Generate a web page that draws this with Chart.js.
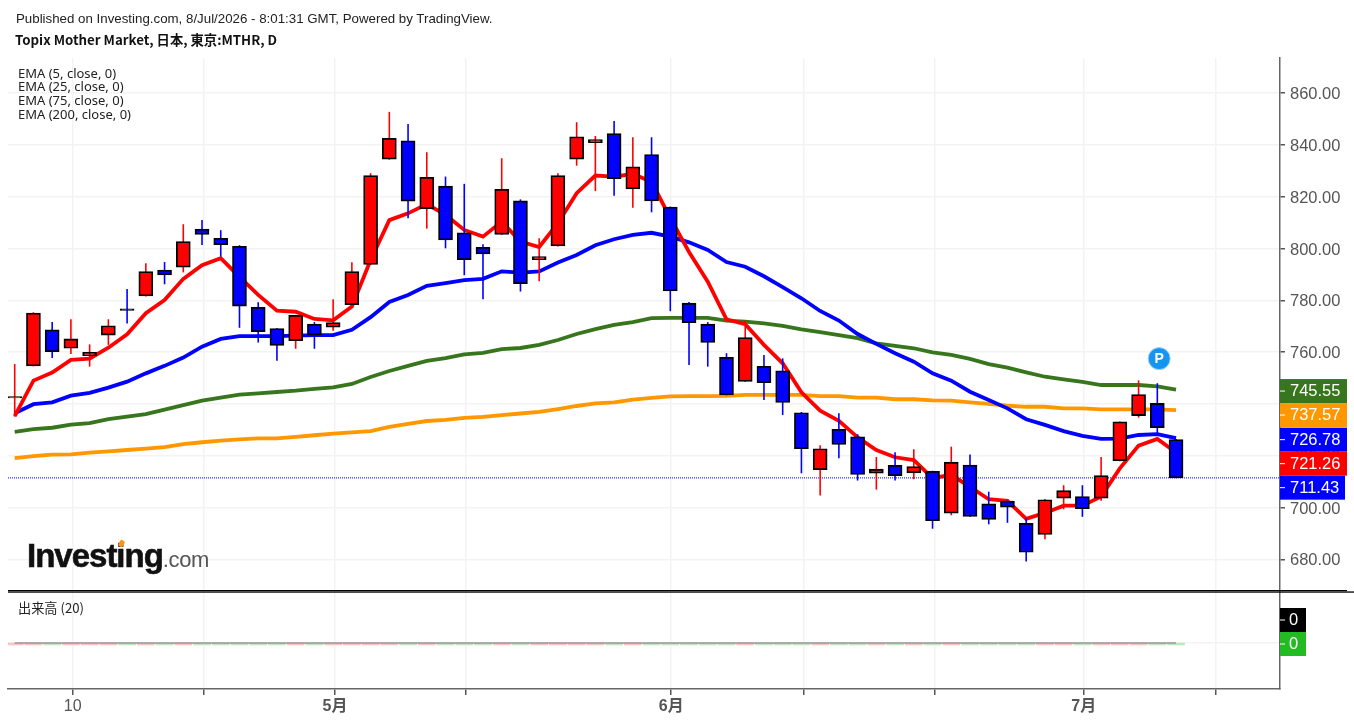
<!DOCTYPE html>
<html>
<head>
<meta charset="utf-8">
<title>Topix Mother Market</title>
<script src="https://cdn.jsdelivr.net/npm/chart.js@4"></script>
<style>
  html, body { margin: 0; padding: 0; background: #fff; }
  #wrap { position: relative; width: 1354px; height: 722px; overflow: hidden; }
  canvas { position: absolute; left: 0; top: 0; }
  .txt { position: absolute; white-space: nowrap; color: #222; line-height: 1; }
  #published { left: 16px; top: 11px; font: 13.3px "Liberation Sans", sans-serif; }
  #symbol { left: 15px; top: 30px; font: bold 13.3px "Noto Sans CJK JP", sans-serif; color: #111; }
  .ema { left: 18px; font: 13px "Noto Sans", sans-serif; }
  #volName { left: 18px; top: 598px; font: 13.2px "Noto Sans CJK JP", sans-serif; }
  #logo { left: 27px; top: 537px; filter: blur(0.5px); color: #111; }
  #logo b { font: bold 33px "Liberation Sans", sans-serif; letter-spacing: -1px; -webkit-text-stroke: 0.6px #111; }
  #logo span { font: 22px "Liberation Sans", sans-serif; color: #555; letter-spacing: -0.4px; }
  #logoDot { position: absolute; left: 119px; top: 540px; width: 5px; height: 7px; background: #f7931e; border-radius: 2px; transform: rotate(30deg); }
</style>
</head>
<body>
<div id="wrap">
  <canvas id="chart" width="1354" height="722"></canvas>
  <div class="txt" id="published">Published on Investing.com, 8/Jul/2026 - 8:01:31 GMT, Powered by TradingView.</div>
  <div class="txt" id="symbol">Topix Mother Market, 日本, 東京:MTHR, D</div>
  <div class="txt ema" style="top:64px">EMA (5, close, 0)</div>
  <div class="txt ema" style="top:77px">EMA (25, close, 0)</div>
  <div class="txt ema" style="top:91px">EMA (75, close, 0)</div>
  <div class="txt ema" style="top:105px">EMA (200, close, 0)</div>
  <div class="txt" id="volName">出来高 (20)</div>
  <div class="txt" id="logo"><b>Investing</b><span>.com</span></div>
  <div id="logoDot"></div>
</div>
<script>
// Daily candles, oldest first
const opens = [742.3,754.7,768.6,761.5,758.6,766.6,776.7,781.7,791.7,792.8,807.5,804.0,800.9,777.3,769.1,764.4,770.8,769.6,778.3,793.9,834.5,841.6,815.4,824.1,806.1,800.5,805.5,818.4,795.7,801.0,834.5,840.9,844.4,823.0,836.3,816.0,778.9,770.8,758.0,748.7,754.5,752.8,736.6,714.6,730.2,727.3,713.3,716.3,713.4,714.0,697.8,716.4,701.4,702.5,693.9,689.6,703.6,704.2,703.6,718.1,735.5,740.2,726.2];
const highs = [755.4,775.4,771.6,772.7,763.0,772.7,784.4,794.3,794.8,809.4,811.0,807.1,801.3,779.3,769.3,774.4,771.6,780.4,794.7,829.1,852.8,848.1,837.2,827.8,825.0,801.7,834.9,819.0,804.0,829.1,848.8,843.5,849.3,843.0,843.0,816.2,779.4,771.6,759.6,772.2,758.9,757.6,736.9,724.0,736.4,728.3,719.5,721.3,722.5,714.2,723.5,720.5,706.1,702.7,695.8,703.3,708.6,708.6,719.5,733.2,749.1,748.0,726.5];
const lows = [735.1,754.5,757.7,759.3,754.4,762.8,771.1,781.5,786.2,790.8,801.4,796.9,769.4,763.7,756.7,761.3,761.3,768.3,778.1,793.7,834.3,811.7,807.7,800.1,789.7,780.4,805.3,783.4,787.4,800.8,832.0,822.2,820.4,815.8,814.0,775.8,755.0,754.4,743.3,748.5,741.5,735.7,713.2,704.6,719.0,710.4,706.9,710.4,710.9,691.8,697.0,696.4,693.5,694.1,679.1,687.7,699.3,696.4,702.6,717.9,734.7,728.7,711.3];
const closes = [742.8,775.1,760.2,765.1,759.9,770.2,776.1,791.1,789.8,802.7,805.5,801.5,777.8,767.9,762.6,774.2,766.6,771.4,791.1,828.2,842.6,818.3,827.5,803.3,795.7,797.9,822.9,786.4,796.9,828.2,843.2,842.1,827.0,831.6,818.4,783.6,771.4,763.8,743.5,765.6,748.2,740.6,722.7,722.7,724.4,712.8,714.8,712.3,715.8,694.9,717.5,696.6,695.4,700.1,682.7,703.0,706.5,699.5,712.3,733.1,743.6,730.8,711.43];

// Moving averages
const ema5 = [735.3,749.0,752.1,757.0,757.5,761.7,766.9,775.0,780.1,788.3,793.6,796.3,789.1,782.1,776.0,775.6,772.8,772.3,777.6,795.6,811.0,813.6,817.2,813.0,807.2,804.6,810.4,802.7,800.6,809.8,821.4,828.2,827.8,828.8,825.8,811.8,798.7,787.2,772.7,770.8,762.8,755.7,744.5,737.4,733.5,727.1,722.2,719.4,718.3,711.3,712.6,708.0,703.2,702.6,695.6,697.9,700.7,700.7,704.2,715.1,723.9,726.5,721.26];
const ema25 = [736.4,739.9,740.6,743.2,744.3,746.3,748.6,751.8,754.7,757.9,762.1,765.1,766.2,766.2,766.2,766.4,766.6,766.6,768.6,773.5,779.4,782.1,785.6,786.7,787.8,788.3,791.2,790.7,791.2,794.6,797.5,801.3,803.6,805.3,806.1,804.6,802.4,799.5,794.8,793.0,789.3,785.1,780.8,775.9,772.2,767.0,763.2,759.6,756.3,751.8,749.0,744.7,741.5,738.3,734.1,731.9,729.5,727.7,726.5,726.6,728.0,728.3,726.78];
const ema75 = [729.2,730.3,730.8,732.0,732.6,734.1,735.1,736.1,737.8,739.5,741.3,742.4,743.6,744.1,744.6,745.1,745.8,746.4,747.7,750.4,752.7,754.7,756.6,757.7,759.1,759.7,761.2,761.6,762.8,764.7,767.0,768.9,770.5,771.6,773.1,773.2,773.2,773.2,772.2,771.8,771.1,770.1,768.8,767.7,766.6,765.4,763.4,762.4,761.5,759.9,758.9,757.4,755.4,754.0,752.2,750.5,749.5,748.5,747.3,747.3,747.3,746.8,745.55];
const ema200 = [719.1,719.8,720.4,720.5,721.2,721.7,722.2,722.7,723.3,724.5,725.2,725.8,726.3,726.7,726.7,727.3,727.9,728.5,729.0,729.5,731.1,732.3,733.4,733.8,734.6,735.0,735.7,736.3,736.9,738.0,739.2,740.2,740.6,741.7,742.3,742.9,743.0,743.0,743.1,743.5,743.5,743.5,743.5,743.0,743.0,742.4,742.4,741.8,741.8,741.4,741.3,740.6,740.0,739.3,738.9,738.9,738.3,738.3,737.9,737.9,737.9,737.9,737.57];

// Volume pane: this index reports no volume
const volumes = [0,0,0,0,0,0,0,0,0,0,0,0,0,0,0,0,0,0,0,0,0,0,0,0,0,0,0,0,0,0,0,0,0,0,0,0,0,0,0,0,0,0,0,0,0,0,0,0,0,0,0,0,0,0,0,0,0,0,0,0,0,0,0];
const volumeMa = [0,0,0,0,0,0,0,0,0,0,0,0,0,0,0,0,0,0,0,0,0,0,0,0,0,0,0,0,0,0,0,0,0,0,0,0,0,0,0,0,0,0,0,0,0,0,0,0,0,0,0,0,0,0,0,0,0,0,0,0,0,0,0];

// Axis ticks (bar numbers, the month starts fall between bars)
const xTickValues = [3.1, 10.1, 17.1, 24.1, 35.05, 42.1, 49.1, 57.07, 64.1];
const xTickLabels = ['10', '', '5月', '', '6月', '', '', '7月', ''];
const boldTicks = ['5月', '6月', '7月'];
const xRange = [-0.358, 67.55];
const priceRange = [667.75, 873.6];
const volumeRange = [-46, 52];

// "P" marker above the bar before last
const markerIndex = 61.1;
const markerValue = 757.5;

const RED = '#ff0000';
const BLUE = '#0000ff';
const GREEN = '#38761d';
const ORANGE = '#ff9800';
const FONT = '"Liberation Sans", "Noto Sans CJK JP", sans-serif';

const lastClose = closes[closes.length - 1];
const isUp = closes.map((c, i) => c >= opens[i]);
const candleColors = isUp.map(up => up ? RED : BLUE);
const line = values => values.map((v, i) => ({ x: i, y: v }));

// Price tags on the right axis, pushed apart when they would overlap
const priceTags = [
  { value: ema75[ema75.length - 1], color: GREEN, width: 67 },
  { value: ema200[ema200.length - 1], color: ORANGE, width: 67 },
  { value: ema25[ema25.length - 1], color: BLUE, width: 67 },
  { value: ema5[ema5.length - 1], color: RED, width: 67 },
  { value: lastClose, color: BLUE, width: 65 }
];

const overlay = {
  id: 'overlay',
  afterDraw(chart) {
    const { ctx, scales, chartArea } = chart;
    const axisX = chartArea.right;

    // double rule between the price and volume panes
    ctx.fillStyle = '#000';
    ctx.fillRect(chartArea.left, 590, 1347 - chartArea.left, 1.2);
    ctx.fillRect(chartArea.left, 591.4, 1354 - chartArea.left, 1.3);

    ctx.font = '16.5px ' + FONT;
    ctx.textBaseline = 'middle';
    ctx.textAlign = 'left';

    // price labels sit slightly below their tick marks
    ctx.fillStyle = '#555';
    scales.y.ticks.forEach(tick => {
      ctx.fillText(tick.value.toFixed(2), 1290, scales.y.getPixelForValue(tick.value) + 1.5);
    });

    let bottom = -Infinity;
    priceTags.forEach(tag => {
      const top = Math.max(scales.y.getPixelForValue(tag.value) - 10.5, bottom);
      bottom = top + 24;
      ctx.fillStyle = tag.color;
      ctx.fillRect(axisX, top, tag.width, 24);
      ctx.fillStyle = '#fff';
      ctx.fillRect(axisX, top + 11.5, 5, 1);
      ctx.fillText(tag.value.toFixed(2), 1290, top + 12.5);
    });

    // volume tags, the moving average sits on top of the volume
    const zero = scales.yv.getPixelForValue(0);
    [{ color: '#000', top: zero - 35 }, { color: '#22bb22', top: zero - 11 }].forEach(tag => {
      ctx.fillStyle = tag.color;
      ctx.fillRect(axisX, tag.top, 26, 24);
      ctx.fillStyle = '#fff';
      ctx.fillRect(axisX, tag.top + 11.5, 5, 1);
      ctx.fillText('0', 1289, tag.top + 12.5);
    });

    // letter on the marker
    const mx = scales.x.getPixelForValue(markerIndex);
    const my = scales.y.getPixelForValue(markerValue);
    ctx.font = 'bold 14px ' + FONT;
    ctx.textAlign = 'center';
    ctx.fillStyle = '#fff';
    ctx.fillText('P', mx, my + 0.5);
  }
};

new Chart(document.getElementById('chart').getContext('2d'), {
  type: 'bar',
  data: {
    datasets: [
      // candle bodies on top, then wicks, then the averages
      { data: line(opens.map((o, i) => [o, closes[i]])), backgroundColor: candleColors, borderColor: '#000', borderWidth: 1.8, borderSkipped: false, grouped: false, barPercentage: 1, categoryPercentage: 1, maxBarThickness: 14, order: 1, yAxisID: 'y' },
      { data: line(lows.map((l, i) => [l, highs[i]])), backgroundColor: candleColors, borderWidth: 0, grouped: false, maxBarThickness: 1.6, order: 2, yAxisID: 'y' },
      { type: 'line', data: line(ema5), borderColor: RED, borderWidth: 3.8, pointRadius: 0, tension: 0, order: 3, yAxisID: 'y' },
      { type: 'line', data: line(ema25), borderColor: BLUE, borderWidth: 3.8, pointRadius: 0, tension: 0, order: 4, yAxisID: 'y' },
      { type: 'line', data: line(ema75), borderColor: GREEN, borderWidth: 3.8, pointRadius: 0, tension: 0, order: 5, yAxisID: 'y' },
      { type: 'line', data: line(ema200), borderColor: ORANGE, borderWidth: 3.8, pointRadius: 0, tension: 0, order: 6, yAxisID: 'y' },
      // last price line
      { type: 'line', data: xRange.map(x => ({ x: x, y: lastClose })), borderColor: BLUE, borderWidth: 1, borderDash: [1, 1], pointRadius: 0, order: 7, yAxisID: 'y' },
      // marker disc
      { type: 'line', data: [{ x: markerIndex, y: markerValue }], showLine: false, pointRadius: 11, pointBackgroundColor: '#1695f0', pointBorderColor: '#9fd3f8', pointBorderWidth: 1, order: 0, yAxisID: 'y' },
      // volume pane, zero height bars are kept visible with a small base under zero
      { data: line(volumes), backgroundColor: isUp.map(up => up ? '#f8c4c4' : '#bfe8bf'), base: -2, grouped: false, barPercentage: 1, categoryPercentage: 1, maxBarThickness: 17, order: 9, yAxisID: 'yv' },
      { type: 'line', data: line(volumeMa), borderColor: '#999', borderWidth: 1.4, pointRadius: 0, order: 8, yAxisID: 'yv' }
    ]
  },
  plugins: [overlay],
  options: {
    responsive: false,
    animation: false,
    events: [],
    layout: { autoPadding: false, padding: { left: 8, top: 58, right: 0, bottom: 0 } },
    plugins: { legend: { display: false }, tooltip: { enabled: false } },
    scales: {
      x: {
        type: 'linear',
        min: xRange[0],
        max: xRange[1],
        offset: false,
        afterBuildTicks: axis => { axis.ticks = xTickValues.map(v => ({ value: v })); },
        afterFit: axis => { axis.height = 33; },
        grid: { color: '#f3f3f3', lineWidth: 1.5, tickColor: '#555', tickLength: 6, offset: false },
        border: { color: '#666', width: 1.5 },
        ticks: {
          autoSkip: false,
          maxRotation: 0,
          padding: 2,
          color: '#555',
          callback: (value, index) => xTickLabels[index],
          font: ctx => ({
            family: FONT,
            size: 16,
            weight: boldTicks.includes(xTickLabels[ctx.index]) ? 'bold' : 'normal'
          })
        }
      },
      y: {
        position: 'right',
        stack: 'right',
        stackWeight: 533,
        min: priceRange[0],
        max: priceRange[1],
        afterFit: axis => { axis.width = 74; },
        grid: { color: '#f3f3f3', lineWidth: 1.5, tickColor: '#555', tickLength: 5 },
        border: { color: '#666', width: 1.5 },
        ticks: { stepSize: 20, includeBounds: false, display: false }
      },
      yv: {
        position: 'right',
        stack: 'right',
        stackWeight: 98,
        min: volumeRange[0],
        max: volumeRange[1],
        afterFit: axis => { axis.width = 74; },
        afterBuildTicks: axis => { axis.ticks = [{ value: 0 }]; },
        grid: { color: '#f3f3f3', lineWidth: 1.5, drawTicks: false },
        border: { color: '#666', width: 1.5 },
        ticks: { display: false }
      }
    }
  }
});
</script>
</body>
</html>
